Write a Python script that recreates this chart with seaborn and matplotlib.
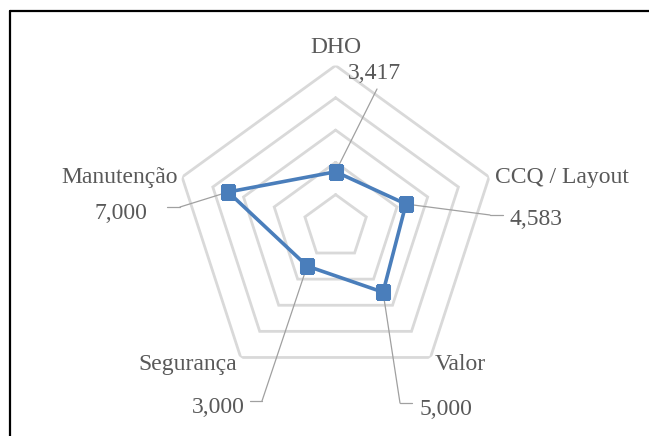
import numpy as np
import pandas as pd
import matplotlib
matplotlib.use("Agg")
import matplotlib.pyplot as plt
import matplotlib.transforms as mtransforms
from matplotlib.lines import Line2D
import seaborn as sns

# ---- data ----
categories = ["DHO", "CCQ / Layout", "Valor", "Segurança", "Manutenção"]
scores = [3.417, 4.583, 5.000, 3.000, 7.000]
score_labels = ["3,417", "4,583", "5,000", "3,000", "7,000"]
ring_levels = [2, 4, 6, 8, 10]

sns.set_style("white")
plt.rcParams["font.family"] = ["Liberation Serif", "DejaVu Serif"]

W, H = 649, 436
fig = plt.figure(figsize=(W / 100, H / 100), dpi=100)
fig.patch.set_facecolor("white")

TEXT_C = "#595959"
GRID_C = "#d9d9d9"
LINE_C = "#4a7ebb"
LEAD_C = "#a0a0a0"
FS = 17

# radar area: centre and outer radius in pixels (top-left origin)
cx, cy, R = 335.6, 226.9, 161.4
ax = fig.add_axes([(cx - R) / W, (H - cy - R) / H, 2 * R / W, 2 * R / H],
                  projection="polar")
ax.set_theta_offset(np.pi / 2)
ax.set_theta_direction(-1)
ax.grid(False)
ax.spines["polar"].set_visible(False)
ax.patch.set_alpha(0)

n = len(categories)
theta = np.linspace(0, 2 * np.pi, n, endpoint=False)
closed_theta = np.append(theta, theta[0])

# pentagon grid rings
for lvl in ring_levels:
    ax.plot(closed_theta, [lvl] * (n + 1), color=GRID_C, lw=2.0, zorder=1,
            solid_joinstyle="miter")

df = pd.DataFrame({"theta": closed_theta, "score": scores + scores[:1]})
sns.lineplot(data=df, x="theta", y="score", sort=False, estimator=None, ax=ax,
             color=LINE_C, lw=2.6, marker="s", markersize=10,
             markeredgecolor=LINE_C, zorder=4)

ax.set_ylim(0, ring_levels[-1])
ax.set_xticks([])
ax.set_yticks([])
ax.set_xlabel("")
ax.set_ylabel("")

# outer chart frame
pix = mtransforms.IdentityTransform()
fig.add_artist(Line2D([10, 10], [H - 11, -5], transform=pix, color="black", lw=1.6))
fig.add_artist(Line2D([10, W + 5], [H - 11, H - 11], transform=pix, color="black", lw=1.6))

# category labels: (x, baseline, ha)
cat_pos = [(335.5, 53, "center"), (495, 183, "left"), (435, 370, "left"),
           (188, 370, "center"), (178, 183, "right")]
for name, (x, y, ha) in zip(categories, cat_pos):
    fig.text(x / W, (H - y) / H, name, ha=ha, va="baseline", fontsize=FS, color=TEXT_C)

# value labels with leader lines: (x, baseline, ha, elbow, stub end)
val_pos = [
    (348, 79, "left", (377, 89), None),
    (510, 225, "left", (490, 215), (503, 215)),
    (420, 415, "left", (400, 403), (412, 403)),
    (245, 413, "right", (262, 401), (250, 401)),
    (147, 219, "right", (180, 207), (167, 207)),
]
for t, v, lab, (x, y, ha, elbow, stub) in zip(theta, scores, score_labels, val_pos):
    fig.text(x / W, (H - y) / H, lab, ha=ha, va="baseline", fontsize=FS, color=TEXT_C)
    ax.annotate("", xy=(t, v), xycoords="data",
                xytext=(elbow[0], H - elbow[1]), textcoords="figure pixels",
                arrowprops=dict(arrowstyle="-", color=LEAD_C, lw=0.9,
                                shrinkA=0, shrinkB=0),
                zorder=3, annotation_clip=False)
    if stub is not None:
        fig.add_artist(Line2D([elbow[0], stub[0]], [H - elbow[1], H - stub[1]],
                              transform=pix, color=LEAD_C, lw=0.9))

fig.savefig("out.png", dpi=100, facecolor="white")
